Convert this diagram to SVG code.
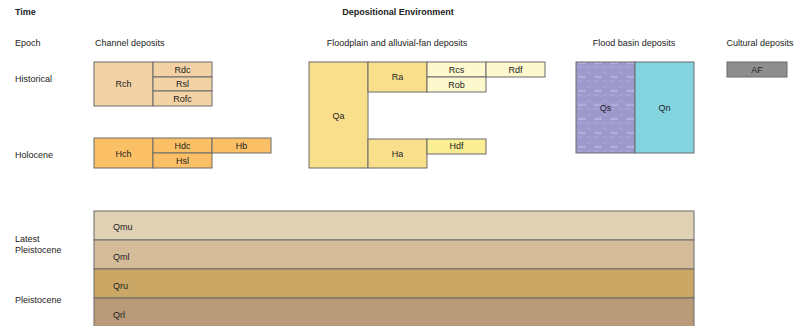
<svg xmlns="http://www.w3.org/2000/svg" width="803" height="326" viewBox="0 0 803 326">
<style>
text{font-family:"Liberation Sans",Arial,sans-serif;font-size:9px;fill:#222}
.b{font-weight:bold}
.m{text-anchor:middle}
.bx{stroke:#6b6b6b;stroke-width:1}
.rh{fill:#f3d3a6}.hh{fill:#fbc065}.fa{fill:#f9df8c}.fl{fill:#fdf8cd}.hd{fill:#f9ee93}
.qn{fill:#84d4e0}.af{fill:#8e8e8e}
.l1{fill:#dfd1b3}.l2{fill:#d4bb9a}.l3{fill:#caa764}.l4{fill:#b99b7a}
</style>
<defs>
<pattern id="qsp" width="16" height="14" patternUnits="userSpaceOnUse">
<rect width="16" height="14" fill="#9d99cd"/>
<path d="M2 8 L3 5 L5 7 L6 4 L7 7 L9 5 L10 8 Z" fill="#b4b1dc"/>
<path d="M1 11 H7 M10 11 H15 M11 3 H15" stroke="#b1aedb" stroke-width="0.8"/>
</pattern>
</defs>
<g id="headers">
<text class="b" x="15" y="15">Time</text>
<text class="b m" x="398" y="15">Depositional Environment</text>
<text x="15" y="46">Epoch</text>
<text x="95" y="46">Channel deposits</text>
<text class="m" x="397" y="46">Floodplain and alluvial-fan deposits</text>
<text class="m" x="634" y="46">Flood basin deposits</text>
<text class="m" x="760" y="46">Cultural deposits</text>
<text x="15" y="82">Historical</text>
<text x="15" y="158">Holocene</text>
<text x="15" y="242">Latest</text>
<text x="15" y="253">Pleistocene</text>
<text x="15" y="303">Pleistocene</text>
</g>
<g id="layers">
<g id="Qmu"><rect class="bx l1" x="94" y="211" width="600" height="29"/><text x="113" y="230">Qmu</text></g>
<g id="Qml"><rect class="bx l2" x="94" y="240" width="600" height="29"/><text x="113" y="260">Qml</text></g>
<g id="Qru"><rect class="bx l3" x="94" y="269" width="600" height="29"/><text x="113" y="289">Qru</text></g>
<g id="Qrl"><rect class="bx l4" x="94" y="298" width="600" height="30"/><text x="113" y="318">Qrl</text></g>
</g>
<g id="Rch"><rect class="bx rh" x="94" y="62" width="59" height="44"/><text class="m" x="123.5" y="87">Rch</text></g>
<g id="Rdc"><rect class="bx rh" x="153" y="62" width="59" height="15"/><text class="m" x="182.5" y="73">Rdc</text></g>
<g id="Rsl"><rect class="bx rh" x="153" y="77" width="59" height="14"/><text class="m" x="182.5" y="87">Rsl</text></g>
<g id="Rofc"><rect class="bx rh" x="153" y="91" width="59" height="15"/><text class="m" x="182.5" y="102">Rofc</text></g>
<g id="Hch"><rect class="bx hh" x="94" y="138" width="59" height="30"/><text class="m" x="123.5" y="157">Hch</text></g>
<g id="Hdc"><rect class="bx hh" x="153" y="138" width="59" height="15"/><text class="m" x="182.5" y="149">Hdc</text></g>
<g id="Hb"><rect class="bx hh" x="212" y="138" width="59" height="15"/><text class="m" x="241.5" y="149">Hb</text></g>
<g id="Hsl"><rect class="bx hh" x="153" y="153" width="59" height="15"/><text class="m" x="182.5" y="164">Hsl</text></g>
<g id="Qa"><rect class="bx fa" x="309" y="62" width="59" height="106"/><text class="m" x="338.5" y="119">Qa</text></g>
<g id="Ra"><rect class="bx fa" x="368" y="62" width="59" height="30"/><text class="m" x="397.5" y="80">Ra</text></g>
<g id="Rcs"><rect class="bx fl" x="427" y="62" width="59" height="15"/><text class="m" x="456.5" y="73">Rcs</text></g>
<g id="Rdf"><rect class="bx fl" x="486" y="62" width="59" height="15"/><text class="m" x="515.5" y="73">Rdf</text></g>
<g id="Rob"><rect class="bx fl" x="427" y="77" width="59" height="15"/><text class="m" x="456.5" y="88">Rob</text></g>
<g id="Ha"><rect class="bx fa" x="368" y="139" width="59" height="29"/><text class="m" x="397.5" y="157">Ha</text></g>
<g id="Hdf"><rect class="bx hd" x="427" y="139" width="59" height="15"/><text class="m" x="456.5" y="149">Hdf</text></g>
<g id="Qs"><rect class="bx" fill="url(#qsp)" x="576" y="62" width="59" height="91"/><text class="m" x="605.5" y="111">Qs</text></g>
<g id="Qn"><rect class="bx qn" x="635" y="62" width="59" height="91"/><text class="m" x="664.5" y="111">Qn</text></g>
<g id="AF"><rect class="bx af" x="727" y="62" width="60" height="15"/><text class="m" x="757" y="73">AF</text></g>
<g id="connectors"></g>
</svg>
